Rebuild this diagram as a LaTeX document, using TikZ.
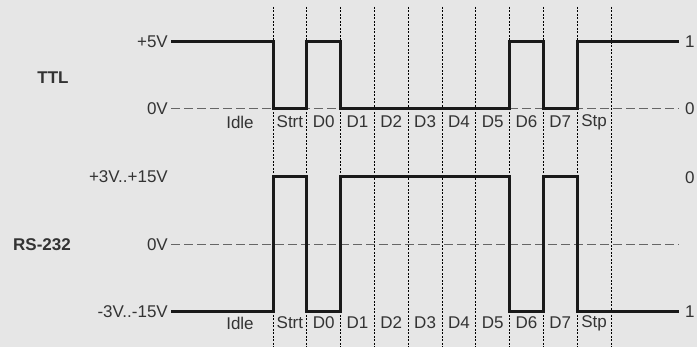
\documentclass[tikz,border=0pt]{standalone}
\usepackage{fontspec}
\setmainfont{Liberation Sans}
\definecolor{bg}{HTML}{E6E6E6}
\definecolor{ink}{HTML}{333333}
\begin{document}
\begin{tikzpicture}[x=1pt,y=-1pt,font=\fontsize{17}{19}\selectfont,
  signal/.style={line width=3pt,black!90,line join=miter},
  zeroline/.style={black!60,line width=1pt,dash pattern=on 9pt off 4pt},
  slot/.style={black,line width=1pt,dash pattern=on 2pt off 1.5pt},
  lvl/.style={left,ink,inner sep=1pt},
  bit/.style={right,ink,inner sep=1pt},
  tag/.style={ink}]
  \useasboundingbox (0,0) rectangle (697,347);
  \fill[bg] (0,0) rectangle (697,347);
  \foreach \k in {0,...,10}
    \draw[slot] (273+33.8*\k,7) -- (273+33.8*\k,347);
  \draw[zeroline] (171,109) -- (679,109);
  \draw[zeroline] (171,245) -- (679,245);
  \draw[signal] (171,42) -- (273,42) -- (273,109) -- (306.8,109) -- (306.8,42)
    -- (340.6,42) -- (340.6,109) -- (509.6,109) -- (509.6,42) -- (543.4,42)
    -- (543.4,109) -- (577.2,109) -- (577.2,42) -- (679,42);
  \draw[signal] (171,312) -- (273,312) -- (273,177) -- (306.8,177) -- (306.8,312)
    -- (340.6,312) -- (340.6,177) -- (509.6,177) -- (509.6,312) -- (543.4,312)
    -- (543.4,177) -- (577.2,177) -- (577.2,312) -- (679,312);
  \node[tag,font=\fontsize{17}{19}\selectfont\bfseries] (ttl) at (53,78) {TTL};
  \node[tag,font=\fontsize{17}{19}\selectfont\bfseries] (rs) at (42,245) {RS-232};
  \node[lvl] (ttlhi) at (169,42) {+5V};
  \node[lvl] (ttllo) at (169,109) {0V};
  \node[lvl] (rshi) at (169,177) {+3V..+15V};
  \node[lvl] (rszero) at (169,245) {0V};
  \node[lvl] (rslo) at (169,312) {-3V..-15V};
  \node[bit] (ttlone) at (684,42) {1};
  \node[bit] (ttlnil) at (684,109) {0};
  \node[bit] (rsnil) at (684,178) {0};
  \node[bit] (rsone) at (684,312) {1};
  \node[tag] (idleA) at (240,122) {Idle};
  \node[tag] (idleB) at (240,323) {Idle};
  \foreach \name [count=\i from 0] in {Strt,D0,D1,D2,D3,D4,D5,D6,D7,Stp} {
    \node[tag,inner sep=0pt] (ttl\i) at (289.9+33.8*\i,122) {\name};
    \node[tag,inner sep=0pt] (rs\i) at (289.9+33.8*\i,323) {\name};
  }
\end{tikzpicture}
\end{document}
